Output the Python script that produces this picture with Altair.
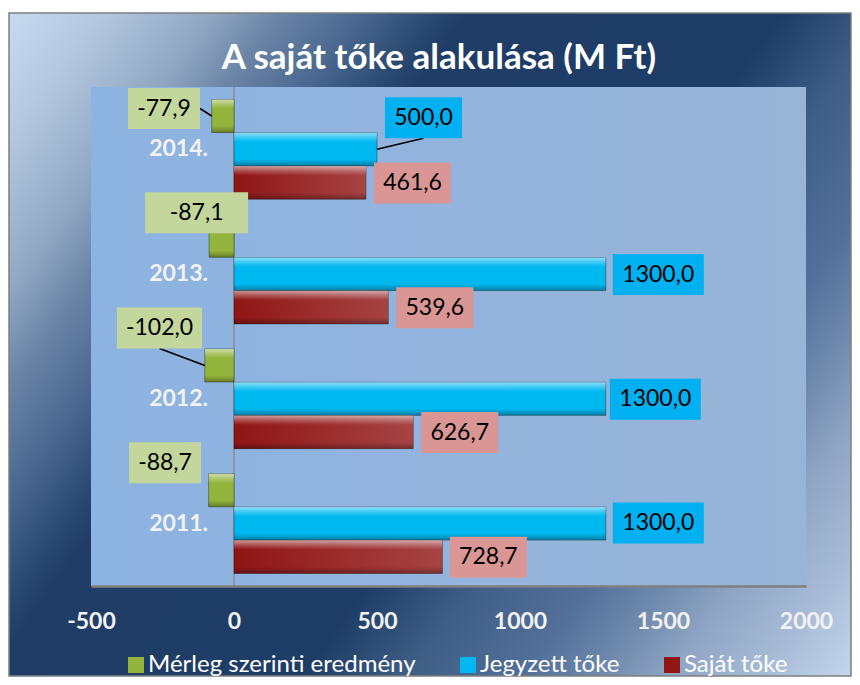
import altair as alt
import pandas as pd

# ---------------- data ----------------
years = ["2014.", "2013.", "2012.", "2011."]
series = ["Mérleg szerinti eredmény", "Jegyzett tőke", "Saját tőke"]
merleg = [-77.9, -87.1, -102.0, -88.7]
jegyzett = [500.0, 1300.0, 1300.0, 1300.0]
sajat = [461.6, 539.6, 626.7, 728.7]
x_ticks = [-500, 0, 500, 1000, 1500, 2000]
title_text = "A saját tőke alakulása (M Ft)"

# ---------------- style / layout ----------------
bar_colors = ["#93B53C", "#00B8F0", "#901515"]
box_colors = ["#C3D69B", "#00B0F0", "#D99694"]
W, H = 715, 499
XMIN, XMAX = -500, 2000
UX = (XMAX - XMIN) / W  # data units per pixel (x)
UY = 4 / H              # band units per pixel (y)
# label box: (dx from bar end px, dy from bar centre px, box width px, leader line)
label_layout = {
    (0, 0): (-47.7, -7.5, 72, "side"),
    (0, 1): (46.5, -31.5, 77, "below"),
    (0, 2): (46.5, 0.5, 77, ""),
    (1, 0): (-12.5, -28.0, 103, ""),
    (1, 1): (52.5, 0.5, 91, ""),
    (1, 2): (46.5, 0.5, 77, ""),
    (2, 0): (-45.3, -37.5, 85, "below"),
    (2, 1): (49.5, 0.5, 91, ""),
    (2, 2): (46.5, 0.5, 77, ""),
    (3, 0): (-43.6, -27.5, 72, ""),
    (3, 1): (52.5, -0.5, 91, ""),
    (3, 2): (46.0, 0.5, 77, ""),
}
BOX_H = 41

values_by_series = [merleg, jegyzett, sajat]
rows = []
for i, yr in enumerate(years):
    for k, s in enumerate(series):
        v = values_by_series[k][i]
        y0 = i + 0.1 + k * 0.267
        y1 = y0 + 0.265
        yc = (y0 + y1) / 2
        dx, dy, bw, leader = label_layout[(i, k)]
        cx = v + dx * UX
        cy = yc + dy * UY
        if leader == "side":
            lx0, ly0 = cx + bw / 2 * UX, cy
        elif leader == "below":
            lx0, ly0 = cx, cy + BOX_H / 2 * UY
        else:
            lx0, ly0 = None, None
        rows.append(dict(
            year=yr, series=s, k=k, value=v, y0=y0, y1=y1, yc=yc,
            label=f"{v:.1f}".replace(".", ","),
            cx=cx, cy=cy,
            bx0=cx - bw / 2 * UX, bx1=cx + bw / 2 * UX,
            by0=cy - BOX_H / 2 * UY, by1=cy + BOX_H / 2 * UY,
            box_fill=box_colors[k],
            leader=1 if leader else 0, lx0=lx0, ly0=ly0,
        ))
df = pd.DataFrame(rows)

xsc = alt.Scale(domain=[XMIN, XMAX], nice=False, zero=False)
ysc = alt.Scale(domain=[0, 4], reverse=True, nice=False, zero=False)
xax = alt.Axis(values=x_ticks, labelExpr="'' + datum.value", labelFont="Lato",
               labelFontSize=23, labelFontWeight="bold", labelColor="#F2F2F2",
               ticks=False, grid=False, domainColor="#7F7F7F", domainWidth=2.5,
               labelPadding=35, labelBaseline="middle", title=None, zindex=1,
               labelFlush=False, labelOverlap=False)

one = alt.Data(values=[{"t": title_text}])

bg_stops = [
    (0.0, "#C8DAF0"), (0.068, "#B5C8E0"), (0.155, "#8FA6C2"), (0.205, "#6A84A6"),
    (0.265, "#4A6890"), (0.32, "#2B4A72"), (0.347, "#1F3D66"), (0.585, "#1E3D66"),
    (0.664, "#3F5E86"), (0.753, "#52709A"), (0.802, "#6A86AA"), (0.863, "#8FA5C4"),
    (0.937, "#A9BDD8"), (1.0, "#C3D6EC"),
]
bg_grad = alt.LinearGradient(gradient="linear", x1=0, y1=0, x2=1.185, y2=0.676,
                             stops=[alt.GradientStop(offset=o, color=c) for o, c in bg_stops])
plot_grad = alt.LinearGradient(gradient="linear", x1=0, y1=0, x2=1, y2=0, stops=[
    alt.GradientStop(offset=0, color="#8DB3E2"),
    alt.GradientStop(offset=1, color="#98B4D7"),
])
bevel = alt.LinearGradient(gradient="linear", x1=0, y1=0, x2=0, y2=1, stops=[
    alt.GradientStop(offset=0, color="rgba(255,255,255,0.55)"),
    alt.GradientStop(offset=0.14, color="rgba(255,255,255,0.25)"),
    alt.GradientStop(offset=0.28, color="rgba(255,255,255,0)"),
    alt.GradientStop(offset=0.8, color="rgba(0,0,0,0)"),
    alt.GradientStop(offset=1, color="rgba(0,0,0,0.3)"),
])
sheen = alt.LinearGradient(gradient="linear", x1=0, y1=0, x2=1, y2=0, stops=[
    alt.GradientStop(offset=0, color="rgba(255,255,255,0)"),
    alt.GradientStop(offset=1, color="rgba(255,255,255,0.2)"),
])

background = alt.Chart(one).mark_rect(fill=bg_grad, stroke="#7F7F7F", strokeWidth=1.5).encode(
    x=alt.value(-82), x2=alt.value(760), y=alt.value(-74), y2=alt.value(589)
)
plot_bg = alt.Chart(one).mark_rect(fill=plot_grad).encode(
    x=alt.value(0), x2=alt.value(W), y=alt.value(0), y2=alt.value(H)
)
zero_line = alt.Chart(one).mark_rule(color="#8C8C8C", strokeWidth=1.5).encode(
    x=alt.XDatum(0, scale=xsc, axis=xax, type="quantitative"),
    y=alt.value(0), y2=alt.value(H)
)

bars = alt.Chart(df).mark_rect(stroke="rgba(0,0,0,0.35)", strokeWidth=1).encode(
    x=alt.X("value:Q", scale=xsc, axis=xax),
    x2=alt.X2Datum(0),
    y=alt.Y("y0:Q", scale=ysc, axis=None),
    y2="y1:Q",
    color=alt.Color("series:N", scale=alt.Scale(domain=series, range=bar_colors),
                    legend=alt.Legend(orient="none", legendX=33, legendY=566,
                                      direction="horizontal", title=None,
                                      symbolType="square", symbolSize=256,
                                      symbolStrokeWidth=0, labelLimit=0,
                                      labelFont="Lato", labelFontSize=24,
                                      labelColor="#FFFFFF", columnPadding=40,
                                      labelOffset=0)),
)
red_sheen = alt.Chart(df).transform_filter("datum.k == 2").mark_rect(fill=sheen).encode(
    x=alt.X("value:Q", scale=xsc, axis=xax),
    x2=alt.X2Datum(0),
    y=alt.Y("y0:Q", scale=ysc, axis=None),
    y2="y1:Q",
)
bars_bevel = alt.Chart(df).mark_rect(fill=bevel).encode(
    x=alt.X("value:Q", scale=xsc, axis=xax),
    x2=alt.X2Datum(0),
    y=alt.Y("y0:Q", scale=ysc, axis=None),
    y2="y1:Q",
)

leaders = alt.Chart(df).transform_filter("datum.leader == 1").mark_rule(
    color="#000000", strokeWidth=1.5).encode(
    x=alt.X("lx0:Q", scale=xsc, axis=xax), x2="value:Q",
    y=alt.Y("ly0:Q", scale=ysc, axis=None), y2="yc:Q",
)

boxes = alt.Chart(df).mark_rect().encode(
    x=alt.X("bx0:Q", scale=xsc, axis=xax), x2="bx1:Q",
    y=alt.Y("by0:Q", scale=ysc, axis=None), y2="by1:Q",
    fill=alt.Fill("box_fill:N", scale=None),
)
box_text = alt.Chart(df).mark_text(font="Lato", fontSize=23, color="#000000",
                                   align="center", baseline="middle").encode(
    x=alt.X("cx:Q", scale=xsc, axis=xax),
    y=alt.Y("cy:Q", scale=ysc, axis=None),
    text="label:N",
)

cat_labels = alt.Chart(df).transform_filter("datum.k == 1").mark_text(
    font="Lato", fontSize=23, fontWeight="bold", color="#F2F2F2",
    align="right", baseline="middle", dx=-26).encode(
    x=alt.XDatum(0, scale=xsc, axis=xax, type="quantitative"),
    y=alt.Y("yc:Q", scale=ysc, axis=None),
    text="year:N",
)

title = alt.Chart(one).mark_text(font="Lato", fontSize=35, fontWeight="bold",
                                 color="#FFFFFF", align="center", baseline="middle").encode(
    x=alt.value(348), y=alt.value(-29), text="t:N"
)

chart = alt.layer(
    background, plot_bg, zero_line, bars, red_sheen, bars_bevel, leaders, boxes,
    box_text, cat_labels, title
).properties(
    width=W, height=H,
    padding={"left": 0, "top": 4, "right": 0, "bottom": 0},
).configure_view(stroke=None).configure(background="white")

chart.save("out.html", embed_options={"renderer": "svg", "actions": False})
